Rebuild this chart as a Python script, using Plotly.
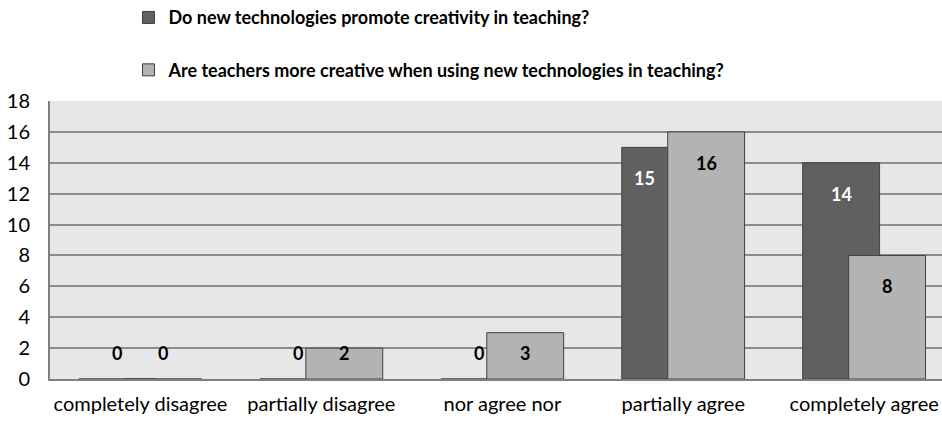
import plotly.graph_objects as go

categories = ["completely disagree", "partially disagree", "nor agree nor",
              "partially agree", "completely agree"]
series_names = ["Do new technologies promote creativity in teaching?",
                "Are teachers more creative when using new technologies in teaching?"]
promote_values = [0, 0, 0, 15, 14]
creative_values = [0, 2, 3, 16, 8]

FONT = "Lato"
DARK = "#606060"
LIGHT = "#b3b3b3"
EDGE = "#404040"

X_RANGE = [-0.5, 4.43]
PLOT_W = 892
PX_PER_CAT = PLOT_W / (X_RANGE[1] - X_RANGE[0])
BAR_W = 0.425
OFF_DARK = -0.34
OFF_LIGHT = -0.086

fig = go.Figure()
fig.add_trace(go.Bar(
    x=categories, y=promote_values, name=series_names[0],
    marker=dict(color=DARK, line=dict(color=EDGE, width=1)),
    width=BAR_W, offset=OFF_DARK, legendgroup="a",
))
fig.add_trace(go.Bar(
    x=categories, y=creative_values, name=series_names[1],
    marker=dict(color=LIGHT, line=dict(color=EDGE, width=1)),
    width=BAR_W, offset=OFF_LIGHT, legendgroup="b",
))

# data labels
dark_full_center = (OFF_DARK + BAR_W / 2) * PX_PER_CAT
dark_visible_center = (OFF_DARK + (OFF_LIGHT - OFF_DARK) / 2) * PX_PER_CAT
light_center = (OFF_LIGHT + BAR_W / 2) * PX_PER_CAT
for c, d, l in zip(categories, promote_values, creative_values):
    yd = max(d - 2, 1.7)
    shift = dark_visible_center if (l >= yd and d > 0) else dark_full_center
    fig.add_annotation(
        x=c, y=yd, xref="x", yref="y", xshift=shift,
        text=f"<b>{d}</b>", showarrow=False,
        font=dict(family=FONT, size=18, color="white" if d > 0 else "black"),
    )
    fig.add_annotation(
        x=c, y=max(l - 2, 1.7), xref="x", yref="y", xshift=light_center,
        text=f"<b>{l}</b>", showarrow=False,
        font=dict(family=FONT, size=18, color="black"),
    )

fig.update_layout(
    width=942, height=422,
    margin=dict(l=50, r=0, t=101, b=43, autoexpand=False),
    barmode="overlay",
    paper_bgcolor="white",
    plot_bgcolor="#e7e7e7",
    font=dict(family=FONT, size=20, color="black"),
    showlegend=True,
    legend=dict(
        x=0.088, xanchor="left", y=1.366, yanchor="top",
        traceorder="grouped", tracegroupgap=26,
        font=dict(family=FONT, size=18, color="black", weight="bold"),
        itemwidth=30, bgcolor="rgba(0,0,0,0)",
    ),
    xaxis=dict(
        type="category", range=X_RANGE,
        showgrid=False, showline=True, linecolor="#808080", linewidth=2,
        ticks="", tickfont=dict(family=FONT, size=20), ticklabelstandoff=6,
    ),
    yaxis=dict(
        range=[0, 18], dtick=2, tick0=0,
        showgrid=True, gridcolor="#8c8c8c", gridwidth=1.5,
        showline=True, linecolor="#808080", linewidth=2,
        ticks="", tickfont=dict(family=FONT, size=20), ticklabelstandoff=14,
        zeroline=False,
    ),
)

fig.write_html("out.html")
